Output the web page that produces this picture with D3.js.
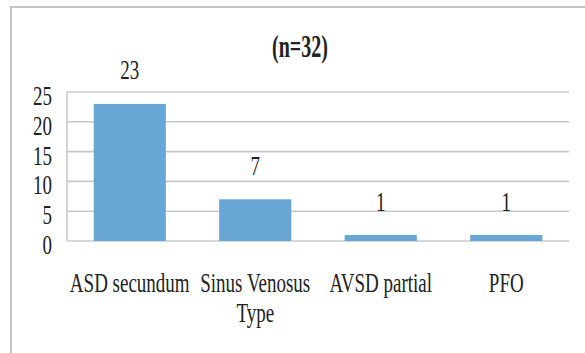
<!DOCTYPE html>
<html>
<head>
<meta charset="utf-8">
<script src="https://cdn.jsdelivr.net/npm/d3@7"></script>
<style>
  html, body { margin: 0; padding: 0; background: #fff; }
  svg { display: block; }
</style>
</head>
<body>
<svg id="chart" width="585" height="353"></svg>
<script>
// Chart data
const categories = ["ASD secundum", "Sinus Venosus Type", "AVSD partial", "PFO"];
const counts = [23, 7, 1, 1];
const yTicks = [0, 5, 10, 15, 20, 25];
const titleText = "(n=32)";

const W = 585, H = 353;
const plot = { left: 67, right: 569, top: 92, bottom: 241 };
const FONT = "'Liberation Serif', 'Times New Roman', serif";
const STRETCH = 1.45;   // tall, narrow lettering
const INK = "#222";
const GRID = "#c8c8c8";

const svg = d3.select("#chart");
svg.append("rect").attr("width", W).attr("height", H).attr("fill", "#fff");

// Outer frame of the chart area
svg.append("path")
  .attr("d", `M11,${H} V7 H${W}`)
  .attr("fill", "none")
  .attr("stroke", "#c4c4c4")
  .attr("stroke-width", 2);

const x = d3.scaleBand()
  .domain(categories)
  .range([plot.left, plot.right])
  .paddingInner(0.425)
  .paddingOuter(0.2125);

const y = d3.scaleLinear()
  .domain([0, 25])
  .range([plot.bottom, plot.top]);

// Horizontal gridlines
svg.append("g")
  .selectAll("line")
  .data(yTicks)
  .join("line")
  .attr("x1", plot.left)
  .attr("x2", plot.right)
  .attr("y1", d => y(d))
  .attr("y2", d => y(d))
  .attr("stroke", GRID)
  .attr("stroke-width", 1.6);

// Vertical axis line
svg.append("line")
  .attr("x1", plot.left).attr("x2", plot.left)
  .attr("y1", y(25)).attr("y2", y(0))
  .attr("stroke", GRID)
  .attr("stroke-width", 1.6);

// Y axis tick labels
const yAxis = svg.append("g")
  .attr("transform", `translate(${plot.left},0)`)
  .call(d3.axisLeft(y).tickValues(yTicks).tickSize(0).tickPadding(15));
yAxis.select(".domain").remove();
yAxis.selectAll("text")
  .attr("dy", "0.45em")
  .attr("transform", `scale(1,${STRETCH})`)
  .attr("font-family", FONT)
  .attr("font-size", 19)
  .attr("fill", INK);

// Bars
svg.append("g")
  .selectAll("rect")
  .data(counts)
  .join("rect")
  .attr("x", (d, i) => x(categories[i]))
  .attr("width", x.bandwidth())
  .attr("y", d => y(d))
  .attr("height", d => y(0) - y(d))
  .attr("fill", "#68a6d6");

// Value labels above bars
svg.append("g")
  .selectAll("text")
  .data(counts)
  .join("text")
  .attr("transform", (d, i) =>
    `translate(${x(categories[i]) + x.bandwidth() / 2},${y(d) - 24.5}) scale(1,${STRETCH})`)
  .attr("text-anchor", "middle")
  .attr("font-family", FONT)
  .attr("font-size", 19)
  .attr("fill", INK)
  .text(d => d);

// Category labels, wrapped to the band width
const catLabels = svg.append("g")
  .selectAll("text")
  .data(categories)
  .join("text")
  .attr("transform", d =>
    `translate(${x(d) + x.bandwidth() / 2},292) scale(1,${STRETCH})`)
  .attr("text-anchor", "middle")
  .attr("font-family", FONT)
  .attr("font-size", 19)
  .attr("fill", INK);

catLabels.each(function(d) {
  const text = d3.select(this);
  const words = d.split(" ");
  const maxW = x.step();
  let line = [];
  let tspan = text.append("tspan").attr("x", 0).attr("dy", 0);
  words.forEach(w => {
    line.push(w);
    tspan.text(line.join(" "));
    if (tspan.node().getComputedTextLength() > maxW && line.length > 1) {
      line.pop();
      tspan.text(line.join(" "));
      line = [w];
      tspan = text.append("tspan").attr("x", 0).attr("dy", "1.1em").text(w);
    }
  });
});

// Title
svg.append("text")
  .attr("transform", `translate(300,57) scale(1,1.55)`)
  .attr("text-anchor", "middle")
  .attr("font-family", FONT)
  .attr("font-weight", "bold")
  .attr("font-size", 20)
  .attr("fill", INK)
  .text(titleText);
</script>
</body>
</html>
